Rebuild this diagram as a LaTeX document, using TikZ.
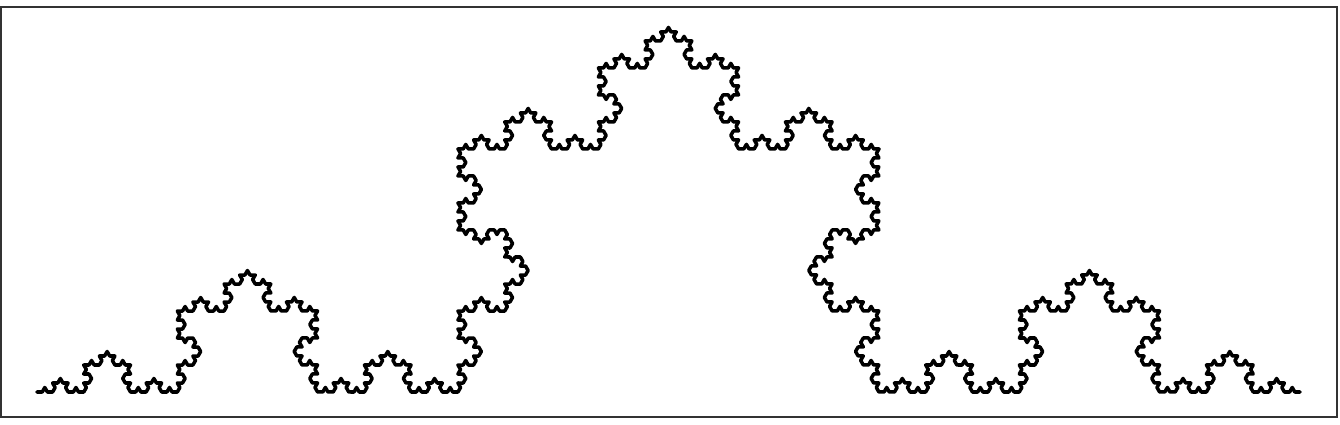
\documentclass[tikz,border=0pt]{standalone}
\usetikzlibrary{%
		decorations.fractals%
	}

\begin{document}
\begin{tikzpicture}[x=0.01cm, y=0.01cm]
			\useasboundingbox (0,0) rectangle (1340,424);
			\draw[black!80, line width=0.3pt] (1,7) rectangle (1337,417);
			
			\draw[line width=1pt, line join=round, line cap=round, decoration={Koch snowflake}]
				decorate{ decorate{ decorate{ decorate{ decorate{ (37,32) -- (1300,32) }}}}};
		\end{tikzpicture}
\end{document}
